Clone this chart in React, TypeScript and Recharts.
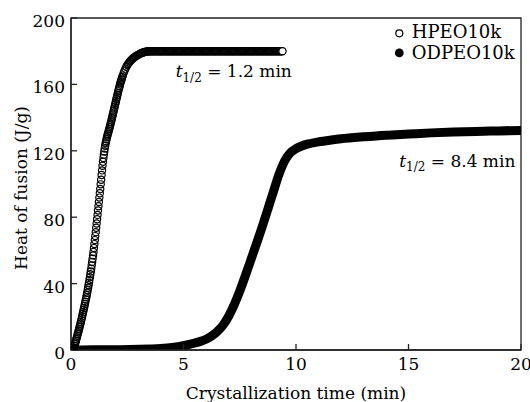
import {
  ComposedChart,
  Line,
  Scatter,
  XAxis,
  YAxis,
  ReferenceArea,
  ReferenceDot,
  Legend,
} from "recharts";

const FONT = "DejaVu Serif";

const xTicks = [0, 5, 10, 15, 20];
const yTicks = [0, 40, 80, 120, 160, 200];
const seriesNames = ["HPEO10k", "ODPEO10k"];

// HPEO10k: [time (min), heat of fusion (J/g)], open circles
const hpeoRise = [
  [0.1, 0], [0.12, 0.6], [0.14, 1.4], [0.16, 2.5], [0.18, 3.6], [0.2, 4.6], [0.22, 5.6], [0.24, 6.6], [0.26, 7.6], [0.28, 8.6],
  [0.3, 9.6], [0.32, 10.6], [0.34, 11.6], [0.36, 12.6], [0.38, 13.7], [0.4, 14.7], [0.42, 15.8], [0.44, 16.9], [0.46, 18], [0.48, 19.2],
  [0.5, 20.4], [0.52, 21.7], [0.54, 22.9], [0.56, 24.1], [0.58, 25.3], [0.6, 26.5], [0.62, 27.8], [0.64, 29.1], [0.66, 30.4], [0.68, 31.7],
  [0.7, 33], [0.72, 34.5], [0.74, 36], [0.76, 37.5], [0.78, 39], [0.8, 40.5], [0.82, 42.2], [0.84, 43.9], [0.86, 45.6], [0.88, 47.3],
  [0.9, 49], [0.92, 51], [0.94, 53], [0.96, 55], [0.98, 57], [1, 59], [1.02, 61.4], [1.04, 63.8], [1.06, 66.2], [1.08, 68.6],
  [1.1, 71], [1.12, 73.6], [1.14, 76.2], [1.16, 78.8], [1.18, 81.4], [1.2, 84], [1.22, 86.6], [1.24, 89.2], [1.26, 91.8], [1.28, 94.4],
  [1.3, 97], [1.32, 99.8], [1.34, 102.6], [1.36, 105.4], [1.38, 108.2], [1.4, 111], [1.42, 113.4], [1.44, 115.6], [1.46, 117.6], [1.48, 119.6],
  [1.5, 121.4], [1.52, 123], [1.54, 124.5], [1.56, 125.8], [1.58, 127], [1.6, 128.2], [1.62, 129.2], [1.64, 130.1], [1.66, 131.1], [1.68, 132.1],
  [1.7, 133.1], [1.72, 134.2], [1.74, 135.2], [1.76, 136.3], [1.78, 137.3], [1.8, 138.4], [1.82, 139.6], [1.84, 140.7], [1.86, 141.9], [1.88, 143],
  [1.9, 144.2], [1.92, 145.4], [1.94, 146.5], [1.96, 147.7], [1.98, 148.8], [2, 150], [2.02, 151.2], [2.04, 152.3], [2.06, 153.5], [2.08, 154.6],
  [2.1, 155.8], [2.12, 156.9], [2.14, 157.9], [2.16, 158.9], [2.18, 160], [2.2, 161], [2.22, 161.9], [2.24, 162.7], [2.26, 163.6], [2.28, 164.4],
  [2.3, 165.3],
];

const hpeoBend = [
  [2.34, 166.8], [2.38, 168.2], [2.42, 169.5], [2.46, 170.6], [2.5, 171.6], [2.54, 172.4], [2.58, 173.1], [2.62, 173.8], [2.66, 174.4], [2.7, 175],
  [2.74, 175.5], [2.78, 176], [2.82, 176.4], [2.86, 176.8], [2.9, 177.2], [2.94, 177.5], [2.98, 177.8], [3.02, 178.1], [3.06, 178.4], [3.1, 178.7],
  [3.14, 178.9], [3.18, 179.1], [3.22, 179.3], [3.26, 179.5], [3.3, 179.6], [3.34, 179.7], [3.38, 179.8], [3.42, 179.9], [3.46, 180], [3.5, 180],
];

const hpeoPlateau = [
  [3.55, 180], [3.6, 180], [3.65, 180], [3.7, 180], [3.75, 180], [3.8, 180], [3.85, 180], [3.9, 180], [3.95, 180], [4, 180],
  [4.05, 180], [4.1, 180], [4.15, 180], [4.2, 180], [4.25, 180], [4.3, 180], [4.35, 180], [4.4, 180], [4.45, 180], [4.5, 180],
  [4.55, 180], [4.6, 180], [4.65, 180], [4.7, 180], [4.75, 180], [4.8, 180], [4.85, 180], [4.9, 180], [4.95, 180], [5, 180],
  [5.05, 180], [5.1, 180], [5.15, 180], [5.2, 180], [5.25, 180], [5.3, 180], [5.35, 180], [5.4, 180], [5.45, 180], [5.5, 180],
  [5.55, 180], [5.6, 180], [5.65, 180], [5.7, 180], [5.75, 180], [5.8, 180], [5.85, 180], [5.9, 180], [5.95, 180], [6, 180],
  [6.05, 180], [6.1, 180], [6.15, 180], [6.2, 180], [6.25, 180], [6.3, 180], [6.35, 180], [6.4, 180], [6.45, 180], [6.5, 180],
  [6.55, 180], [6.6, 180], [6.65, 180], [6.7, 180], [6.75, 180], [6.8, 180], [6.85, 180], [6.9, 180], [6.95, 180], [7, 180],
  [7.05, 180], [7.1, 180], [7.15, 180], [7.2, 180], [7.25, 180], [7.3, 180], [7.35, 180], [7.4, 180], [7.45, 180], [7.5, 180],
  [7.55, 180], [7.6, 180], [7.65, 180], [7.7, 180], [7.75, 180], [7.8, 180], [7.85, 180], [7.9, 180], [7.95, 180], [8, 180],
  [8.05, 180], [8.1, 180], [8.15, 180], [8.2, 180], [8.25, 180], [8.3, 180], [8.35, 180], [8.4, 180], [8.45, 180], [8.5, 180],
  [8.55, 180], [8.6, 180], [8.65, 180], [8.7, 180], [8.75, 180], [8.8, 180], [8.85, 180], [8.9, 180], [8.95, 180], [9, 180],
  [9.05, 180], [9.1, 180], [9.15, 180], [9.2, 180], [9.25, 180], [9.3, 180], [9.35, 180], [9.4, 180],
];

// ODPEO10k: [time (min), heat of fusion (J/g)], filled circles (dense -> thick band)
const odpeoCurve = [
  [0, 0], [1, 0.1], [2, 0.2], [3, 0.4], [3.5, 0.6], [4, 0.9], [4.5, 1.5], [5, 2.6], [5.5, 4.2], [5.75, 5.2],
  [6, 6.5], [6.25, 8.4], [6.5, 11.1], [6.75, 14.8], [7, 20.2], [7.25, 27.2], [7.5, 35.5], [7.75, 44.8], [8, 54.5], [8.25, 64.3],
  [8.5, 74.3], [8.75, 84.8], [9, 95.6], [9.25, 106], [9.5, 114], [9.75, 118.8], [10, 121.3], [10.25, 122.9], [10.5, 124], [11, 125.4],
  [11.5, 126.4], [12, 127.2], [13, 128.4], [14, 129.4], [15, 130.1], [16, 130.8], [17, 131.3], [18, 131.7], [19, 132], [20, 132.3],
];

// half-time annotations: [label value, anchor time, anchor heat, text anchor]
const halfTimes = [
  ["1.2", 4.65, 164.3, "start"],
  ["8.4", 19.75, 110.4, "end"],
];

const hpeoData = [...hpeoRise, ...hpeoBend, ...hpeoPlateau].map(([t, h]) => ({ t, h }));
const odpeoData = odpeoCurve.map(([t, h]) => ({ t, h }));
const lastHpeoT = hpeoData[hpeoData.length - 1].t;

const OpenCircle = (props: any) => (
  <circle
    cx={props.cx}
    cy={props.cy}
    r={3.6}
    fill={props.payload && props.payload.t === lastHpeoT ? "#fff" : "none"}
    stroke="#000"
    strokeWidth={1.2}
  />
);

const makeHalfTimeLabel = (anchor: string) => (props: any) => {
  const { viewBox, value } = props;
  return (
    <text x={viewBox.x} y={viewBox.y} textAnchor={anchor} fontFamily={FONT} fontSize={17} fill="#000">
      <tspan fontStyle="italic">t</tspan>
      <tspan fontSize={12} dy={4.5}>1/2</tspan>
      <tspan dy={-4.5}>{` = ${value} min`}</tspan>
    </text>
  );
};

const LegendBox = () => (
  <svg width={140} height={55} style={{ fontFamily: FONT }}>
    <circle cx={9.3} cy={18.3} r={3.5} fill="#fff" stroke="#000" strokeWidth={1.2} />
    <text x={21.7} y={23.3} fontFamily={FONT} fontSize={18} fill="#000">{seriesNames[0]}</text>
    <circle cx={9.3} cy={37.9} r={4.4} fill="#000" />
    <text x={21.7} y={44.3} fontFamily={FONT} fontSize={18} fill="#000">{seriesNames[1]}</text>
  </svg>
);

export default function App() {
  const tickStyle = { fill: "#000", fontSize: 17, fontFamily: FONT };
  return (
    <div style={{ position: "absolute", left: 0, top: 0, background: "#fff", fontFamily: FONT }}>
      <ComposedChart width={530} height={402} margin={{ top: 18, right: 9, bottom: 0, left: 0 }}>
        <XAxis
          dataKey="t"
          type="number"
          domain={[0, 20]}
          ticks={xTicks}
          interval={0}
          allowDataOverflow
          height={52}
          tickSize={-6}
          tickMargin={14}
          stroke="#222"
          strokeWidth={1.3}
          tick={tickStyle}
          label={{
            content: (p: any) => (
              <text
                x={p.viewBox.x + p.viewBox.width / 2}
                y={p.viewBox.y + 49}
                textAnchor="middle"
                fontFamily={FONT}
                fontSize={17}
                fill="#000"
              >
                Crystallization time (min)
              </text>
            ),
          }}
        />
        <YAxis
          type="number"
          domain={[0, 200]}
          ticks={yTicks}
          interval={0}
          allowDataOverflow
          width={71}
          tickSize={-6}
          tickMargin={12}
          stroke="#222"
          strokeWidth={1.3}
          tick={{ ...tickStyle, dy: 3 }}
          label={{
            content: (p: any) => (
              <text
                transform={`translate(26.5, ${p.viewBox.y + p.viewBox.height / 2 + 4}) rotate(-90)`}
                textAnchor="middle"
                fontFamily={FONT}
                fontSize={17}
                fill="#000"
              >
                Heat of fusion (J/g)
              </text>
            ),
          }}
        />
        <ReferenceArea x1={0} x2={20} y1={0} y2={200} fill="none" stroke="#222" strokeWidth={1.3} />
        <Line
          data={odpeoData}
          dataKey="h"
          name={seriesNames[1]}
          type="monotone"
          stroke="#000"
          strokeWidth={9}
          dot={false}
          activeDot={false}
          isAnimationActive={false}
        />
        <Scatter
          data={hpeoData}
          dataKey="h"
          name={seriesNames[0]}
          shape={OpenCircle}
          isAnimationActive={false}
        />
        {halfTimes.map(([v, t, h, anchor]) => (
          <ReferenceDot
            key={v as string}
            x={t as number}
            y={h as number}
            r={0}
            stroke="none"
            fill="none"
            label={{ value: v, content: makeHalfTimeLabel(anchor as string) }}
          />
        ))}
        <Legend
          layout="vertical"
          align="center"
          verticalAlign="middle"
          wrapperStyle={{ left: 390, top: 15, width: 140, height: 55 }}
          content={LegendBox}
        />
      </ComposedChart>
    </div>
  );
}
